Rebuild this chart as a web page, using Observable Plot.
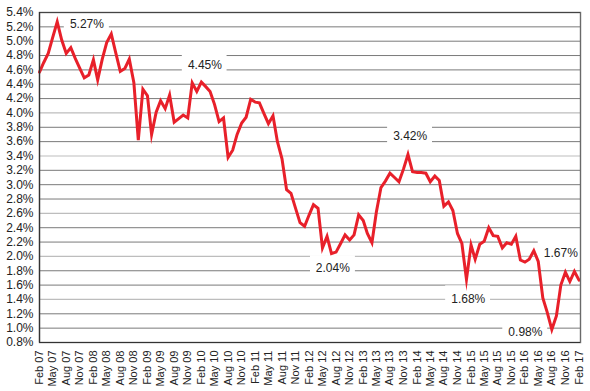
<!DOCTYPE html>
<html><head><meta charset="utf-8">
<script src="https://cdn.jsdelivr.net/npm/d3@7"></script>
<script src="https://cdn.jsdelivr.net/npm/@observablehq/plot@0.6"></script>
<style>
body{margin:0;background:#fff;}
svg{display:block;}
</style>
</head><body><div id="chart"></div>
<script>
const startMonth = "2007-02-01";
const endMonth = "2017-02-01";
const yields = [
  4.57, 4.70, 4.83, 5.05, 5.27, 5.02, 4.83, 4.91, 4.76, 4.62, 4.49, 4.53,
  4.74, 4.46, 4.75, 4.98, 5.10, 4.84, 4.58, 4.62, 4.75, 4.42, 3.62, 4.33,
  4.24, 3.70, 4.01, 4.17, 4.06, 4.25, 3.87, 3.92, 3.97, 3.93, 4.42, 4.30,
  4.43, 4.37, 4.30, 4.12, 3.88, 3.93, 3.38, 3.48, 3.70, 3.86, 3.94, 4.19,
  4.15, 4.14, 3.99, 3.85, 3.96, 3.60, 3.36, 2.93, 2.88, 2.67, 2.47, 2.42,
  2.58, 2.72, 2.67, 2.12, 2.28, 2.04, 2.06, 2.18, 2.30, 2.23, 2.30, 2.58,
  2.50, 2.32, 2.19, 2.62, 2.96, 3.05, 3.16, 3.10, 3.04, 3.22, 3.42, 3.18,
  3.17, 3.17, 3.16, 3.04, 3.12, 3.06, 2.70, 2.76, 2.64, 2.32, 2.18, 1.68,
  2.16, 1.96, 2.17, 2.21, 2.40, 2.29, 2.28, 2.12, 2.19, 2.17, 2.28, 1.95,
  1.92, 1.96, 2.08, 1.93, 1.42, 1.22, 0.98, 1.17, 1.60, 1.78, 1.65, 1.79,
  1.67
];
const yTicks = [0.8, 1.0, 1.2, 1.4, 1.6, 1.8, 2.0, 2.2, 2.4, 2.6, 2.8, 3.0, 3.2,
  3.4, 3.6, 3.8, 4.0, 4.2, 4.4, 4.6, 4.8, 5.0, 5.2, 5.4];
const lightGrid = [1.4, 2.0, 2.6, 3.4, 4.0];
const annLabels = ["5.27%", "4.45%", "3.42%", "2.04%", "1.68%", "0.98%", "1.67%"];
const annDates = ["2007-12-19", "2010-02-25", "2013-12-16", "2012-07-10", "2015-01-13", "2016-02-04", "2016-10-01"];
const annValues = [5.24, 4.67, 3.67, 1.83, 1.41, 0.94, 2.05];

const start = new Date(startMonth);
const end = new Date(endMonth);
const data = yields.map((v, i) => ({date: d3.utcMonth.offset(start, i), value: v}));
const tickDates = data.filter((d, i) => i % 3 === 0).map(d => d.date);
const ann = annLabels.map((t, i) => ({text: t, date: new Date(annDates[i]), value: annValues[i]}));

const chart = Plot.plot({
  width: 590,
  height: 391,
  marginLeft: 39,
  marginRight: 10,
  marginTop: 12,
  marginBottom: 49,
  style: {fontFamily: "'Liberation Sans', Arial, Helvetica, sans-serif", background: "#fff", color: "#222"},
  x: {type: "utc", domain: [start, end], range: [39, 578.5]},
  y: {domain: [0.8, 5.4]},
  marks: [
    Plot.ruleY(yTicks.filter(t => !lightGrid.includes(t)), {stroke: "#7a7a7a", strokeWidth: 1}),
    Plot.ruleY(lightGrid, {stroke: "#bdbdbd", strokeWidth: 1.2}),
    Plot.rect(ann, {
      x1: d => d3.utcMonth.offset(d.date, -5),
      x2: d => d3.utcMonth.offset(d.date, 5),
      y1: d => d.value - 0.18,
      y2: d => d.value + 0.18,
      fill: "white",
      clip: true
    }),
    Plot.lineY(data, {x: "date", y: "value", stroke: "#e8202a", strokeWidth: 3, strokeLinejoin: "miter", strokeMiterlimit: 10}),
    Plot.text(ann, {x: "date", y: "value", text: "text", fontSize: 12, fill: "#222"}),
    Plot.frame({stroke: "#6a6a6a", strokeWidth: 1.4}),
    Plot.ruleY([0.8], {stroke: "#333", strokeWidth: 1.2}),
    Plot.ruleY([5.4], {stroke: "#444", strokeWidth: 1.2}),
    Plot.ruleX([start], {stroke: "#333", strokeWidth: 1.2}),
    Plot.axisY({ticks: yTicks, tickFormat: d => d.toFixed(1) + "%", tickSize: 0, tickPadding: 6, fontSize: 12, label: null}),
    Plot.axisX({ticks: tickDates, tickFormat: d3.utcFormat("%b %y"), tickRotate: -90, tickSize: 0, tickPadding: 8, fontSize: 11, label: null})
  ]
});
document.getElementById("chart").appendChild(chart);
</script>
</body></html>
